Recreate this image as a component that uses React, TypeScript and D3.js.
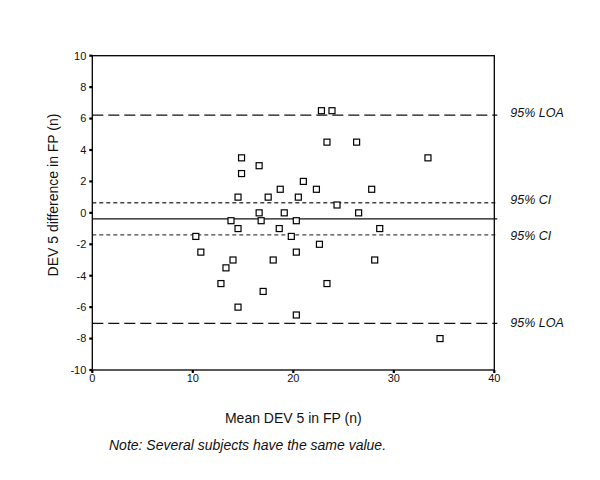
import React from "react";
import * as d3 from "d3";

const meanVals = [
  22.8, 23.85, 23.35, 26.3, 14.85, 33.4, 16.6, 14.85, 21.0, 18.7, 22.3, 27.8,
  14.5, 17.5, 20.5, 24.35, 16.6, 19.1, 26.5, 13.8, 16.8, 20.3, 14.5, 18.6, 28.6,
  10.3, 19.8, 22.6, 10.8, 20.3, 14.0, 18.0, 28.1, 13.3, 12.8, 23.35, 17.0, 14.5,
  20.3, 34.6,
];
const diffVals = [
  6.5, 6.5, 4.5, 4.5, 3.5, 3.5, 3.0, 2.5, 2.0, 1.5, 1.5, 1.5,
  1.0, 1.0, 1.0, 0.5, 0, 0, 0, -0.5, -0.5, -0.5, -1, -1, -1,
  -1.5, -1.5, -2, -2.5, -2.5, -3, -3, -3, -3.5, -4.5, -4.5, -5, -6,
  -6.5, -8,
];
const refNames = ["95% LOA", "95% CI", "mean", "95% CI", "95% LOA"];
const refValues = [6.22, 0.64, -0.38, -1.4, -7.03];
const refKinds = ["loa", "ci", "mean", "ci", "loa"];
const labelOffsets = [-2, -3, 0, 1, -1];
const xTicks = [0, 10, 20, 30, 40];
const yTicks = [-10, -8, -6, -4, -2, 0, 2, 4, 6, 8, 10];

const FONT = "'Liberation Sans', Arial, Helvetica, sans-serif";

export default function App() {
  const x = d3.scaleLinear().domain([0, 40]).range([92.3, 494.3]);
  const y = d3.scaleLinear().domain([-10, 10]).range([370, 55.7]);
  const [x0, x1] = x.range();
  const [yb, yt] = y.range();
  const ms = 6;

  return (
    <svg
      width={600}
      height={480}
      style={{ position: "absolute", left: 0, top: 0, background: "#fff" }}
    >
      <rect x={0} y={0} width={600} height={480} fill="#fff" />
      {/* reference lines */}
      {refValues.map((v, i) => {
        const k = refKinds[i];
        return (
          <line
            key={"r" + i}
            x1={x0}
            x2={x1 + 3}
            y1={y(v)}
            y2={y(v)}
            stroke={k === "ci" ? "#444" : "#111"}
            strokeWidth={k === "mean" ? 1.2 : 1.4}
            strokeDasharray={k === "loa" ? "11,5" : k === "ci" ? "4,3" : undefined}
          />
        );
      })}
      {/* frame */}
      <rect x={x0} y={yt} width={x1 - x0} height={yb - yt} fill="none" stroke="#000" strokeWidth={1.3} />
      {/* y ticks */}
      {yTicks.map((t) => (
        <g key={"yt" + t}>
          <line x1={x0 - 3} x2={x0} y1={y(t)} y2={y(t)} stroke="#000" strokeWidth={2.2} />
          <text
            x={x0 - 6}
            y={y(t)}
            dy="0.35em"
            textAnchor="end"
            fontFamily={FONT}
            fontSize={11}
            fill="#111"
          >
            {t}
          </text>
        </g>
      ))}
      {/* x ticks */}
      {xTicks.map((t) => (
        <g key={"xt" + t}>
          <line x1={x(t)} x2={x(t)} y1={yb} y2={yb + 3} stroke="#000" strokeWidth={2.2} />
          <text
            x={x(t)}
            y={yb + 12}
            textAnchor="middle"
            fontFamily={FONT}
            fontSize={11}
            fill="#111"
          >
            {t}
          </text>
        </g>
      ))}
      {/* points */}
      {meanVals.map((m, i) => (
        <rect
          key={"p" + i}
          x={x(m) - ms / 2}
          y={y(diffVals[i]) - ms / 2}
          width={ms}
          height={ms}
          fill="#fff"
          stroke="#000"
          strokeWidth={1.2}
        />
      ))}
      {/* right labels */}
      {refValues.map((v, i) =>
        refKinds[i] === "mean" ? null : (
          <text
            key={"l" + i}
            x={x1 + 16}
            y={y(v) + labelOffsets[i]}
            dy="0.35em"
            fontFamily={FONT}
            fontStyle="italic"
            fontSize={12.5}
            fill="#111"
          >
            {refNames[i]}
          </text>
        )
      )}
      {/* axis titles */}
      <text
        transform={`translate(58, 195) rotate(-90)`}
        textAnchor="middle"
        fontFamily={FONT}
        fontSize={14}
        fill="#111"
      >
        DEV 5 difference in FP (n)
      </text>
      <text
        x={(x0 + x1) / 2}
        y={423}
        textAnchor="middle"
        fontFamily={FONT}
        fontSize={14}
        fill="#111"
      >
        Mean DEV 5 in FP (n)
      </text>
      <text x={109} y={450} fontFamily={FONT} fontStyle="italic" fontSize={14} fill="#111">
        Note: Several subjects have the same value.
      </text>
    </svg>
  );
}
